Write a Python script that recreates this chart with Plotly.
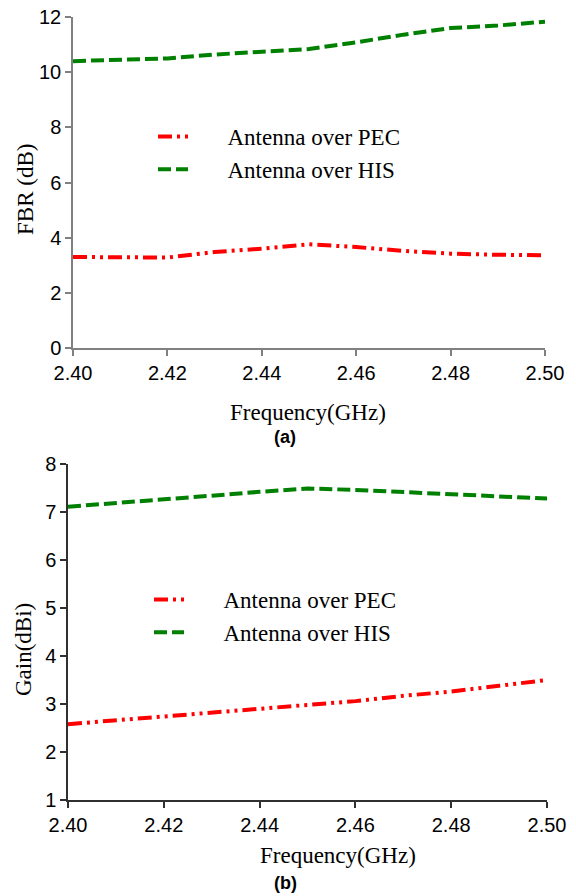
import plotly.graph_objects as go

# Frequency sweep (GHz)
freq = [2.40, 2.41, 2.42, 2.43, 2.44, 2.45, 2.46, 2.47, 2.48, 2.49, 2.50]

# (a) Front-to-back ratio (dB)
fbr_pec = [3.30, 3.30, 3.28, 3.48, 3.60, 3.76, 3.66, 3.52, 3.42, 3.38, 3.36]
fbr_his = [10.40, 10.45, 10.50, 10.64, 10.74, 10.84, 11.08, 11.36, 11.60, 11.69, 11.83]

# (b) Gain (dBi)
gain_pec = [2.58, 2.66, 2.74, 2.82, 2.88, 2.96, 3.06, 3.17, 3.26, 3.38, 3.50]
gain_his = [7.11, 7.18, 7.26, 7.34, 7.42, 7.49, 7.46, 7.42, 7.38, 7.33, 7.28]

x_ticks = [2.40, 2.42, 2.44, 2.46, 2.48, 2.50]
fbr_ticks = [0, 2, 4, 6, 8, 10, 12]
gain_ticks = [1, 2, 3, 4, 5, 6, 7, 8]

W, H = 576, 896
SANS = "Liberation Sans, Arial, sans-serif"
SERIF = "Liberation Serif, Times New Roman, serif"
RED = "#ff0000"
GREEN = "#008000"
PEC_DASH = "14px,5px,3px,5px,3px,5px"
HIS_DASH = "13px,5px"
# legend names carry a few no-break spaces so the text sits clear of the line sample
PAD = "\u00a0" * 6


def px_x(p):
    return p / W


def px_y(p):
    return 1 - p / H


fig = go.Figure()

fig.add_trace(go.Scatter(x=freq, y=fbr_pec, mode="lines", name=PAD + "Antenna over PEC",
                         line=dict(color=RED, width=4, dash=PEC_DASH),
                         xaxis="x", yaxis="y", legend="legend"))
fig.add_trace(go.Scatter(x=freq, y=fbr_his, mode="lines", name=PAD + "Antenna over HIS",
                         line=dict(color=GREEN, width=4, dash=HIS_DASH),
                         xaxis="x", yaxis="y", legend="legend"))
fig.add_trace(go.Scatter(x=freq, y=gain_pec, mode="lines", name=PAD + "Antenna over PEC",
                         line=dict(color=RED, width=4, dash=PEC_DASH),
                         xaxis="x2", yaxis="y2", legend="legend2"))
fig.add_trace(go.Scatter(x=freq, y=gain_his, mode="lines", name=PAD + "Antenna over HIS",
                         line=dict(color=GREEN, width=4, dash=HIS_DASH),
                         xaxis="x2", yaxis="y2", legend="legend2"))

tick_font = dict(family=SANS, size=20, color="black")


def xaxis(domain, anchor, color):
    return dict(domain=domain, anchor=anchor, range=[2.40, 2.50],
                tickvals=x_ticks, ticktext=[f"{v:.2f}" for v in x_ticks],
                ticks="outside", ticklen=6, tickcolor=color, tickwidth=1.5,
                showline=True, linecolor=color, linewidth=1.5, automargin=False,
                showgrid=False, zeroline=False, tickfont=tick_font)


def yaxis(domain, anchor, rng, vals, color):
    return dict(domain=domain, anchor=anchor, range=rng, tickvals=vals,
                ticks="outside", ticklen=6, tickcolor=color, tickwidth=1.5,
                showline=True, linecolor=color, linewidth=1.5, automargin=False,
                showgrid=False, zeroline=False, tickfont=tick_font)


legend_font = dict(family=SERIF, size=23, color="black")

fig.update_layout(
    width=W, height=H,
    margin=dict(l=0, r=0, t=0, b=0),
    paper_bgcolor="white", plot_bgcolor="white",
    xaxis=xaxis([px_x(73), px_x(545)], "y", "#808080"),
    yaxis=yaxis([px_y(348), px_y(17)], "x", [0, 12], fbr_ticks, "#808080"),
    xaxis2=xaxis([px_x(68), px_x(547)], "y2", "#303030"),
    yaxis2=yaxis([px_y(800), px_y(464)], "x2", [1, 8], gain_ticks, "#303030"),
    legend=dict(x=px_x(153), y=px_y(115), xanchor="left", yanchor="top",
                font=legend_font, bgcolor="rgba(0,0,0,0)",
                tracegroupgap=0),
    legend2=dict(x=px_x(149), y=px_y(578), xanchor="left", yanchor="top",
                 font=legend_font, bgcolor="rgba(0,0,0,0)",
                 tracegroupgap=0),
    showlegend=True,
)

title_font = dict(family=SERIF, size=23, color="black")
label_font = dict(family=SANS, size=18, color="black")

annotations = [
    dict(text="FBR (dB)", x=px_x(26), y=px_y(190), textangle=-90, font=title_font),
    dict(text="Frequency(GHz)", x=px_x(308), y=px_y(412), font=title_font),
    dict(text="<b>(a)</b>", x=px_x(285), y=px_y(437), font=label_font),
    dict(text="Gain(dBi)", x=px_x(23), y=px_y(650), textangle=-90, font=title_font),
    dict(text="Frequency(GHz)", x=px_x(338), y=px_y(855), font=title_font),
    dict(text="<b>(b)</b>", x=px_x(285), y=px_y(883), font=label_font),
]
for a in annotations:
    a.update(xref="paper", yref="paper", showarrow=False,
             xanchor="center", yanchor="middle")
fig.update_layout(annotations=annotations)

fig.write_html("out.html")
